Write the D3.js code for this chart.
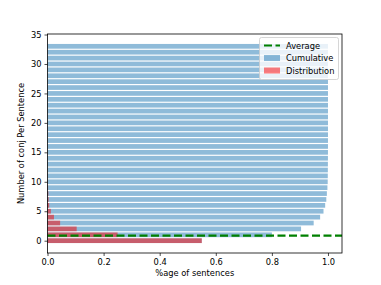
<!DOCTYPE html>
<html><head><meta charset="utf-8">
<script src="https://cdn.jsdelivr.net/npm/d3@7"></script>
<style>body{margin:0;background:#fff}svg{display:block}text{font-family:"DejaVu Sans",sans-serif}</style>
</head><body><svg id="c" width="381" height="285"></svg>
<script>
const conjCounts = d3.range(0, 34);
const distribution = [0.55,0.25,0.104,0.045,0.023,0.012,0.006,0.004,0.003,0.002,0.001,0.0005,0.0003,0.0002,0.0001,0.0001,0,0,0,0,0,0,0,0,0,0,0,0,0,0,0,0,0,0];
const cumulative = [0.55,0.80,0.904,0.949,0.972,0.984,0.990,0.994,0.996,0.998,0.999,0.9993,0.9995,0.9997,0.9998,0.9999,1,1,1,1,1,1,1,1,1,1,1,1,1,1,1,1,1,1];
const averageValue = 0.86;
const xTicks = [0.0,0.2,0.4,0.6,0.8,1.0];
const yTicks = [0,5,10,15,20,25,30,35];

const svg = d3.select("#c");
const L=47.5, R=342, T=34, B=253;
const x = d3.scaleLinear().domain([0,1.05]).range([L,R]);
const y = d3.scaleLinear().domain([-2.09,35.09]).range([B,T]);
const bh = y(0)-y(0.8);

svg.append("g").selectAll("rect").data(conjCounts).join("rect")
  .attr("x",x(0)).attr("y",d=>y(d+0.4)).attr("height",bh)
  .attr("width",d=>x(cumulative[d])-x(0))
  .attr("fill","#1f77b4").attr("fill-opacity",0.5);
svg.append("g").selectAll("rect").data(conjCounts).join("rect")
  .attr("x",x(0)).attr("y",d=>y(d+0.4)).attr("height",bh)
  .attr("width",d=>x(distribution[d])-x(0))
  .attr("fill","red").attr("fill-opacity",0.5);

svg.append("line").attr("x1",L).attr("x2",R).attr("y1",y(averageValue)).attr("y2",y(averageValue))
  .attr("stroke","green").attr("stroke-width",2.2).attr("stroke-dasharray","8,3.5");

// axes
const xa = svg.append("g").attr("transform",`translate(0,${B})`)
  .call(d3.axisBottom(x).tickValues(xTicks).tickFormat(d3.format(".1f")).tickSize(3).tickPadding(3));
const ya = svg.append("g").attr("transform",`translate(${L},0)`)
  .call(d3.axisLeft(y).tickValues(yTicks).tickFormat(d3.format("d")).tickSize(3).tickPadding(3));
[xa,ya].forEach(a=>{a.select(".domain").remove();a.selectAll("text").attr("font-size",8.3).attr("fill","#000");a.selectAll("line").attr("stroke","#000").attr("stroke-width",0.7);});

svg.append("rect").attr("x",L).attr("y",T).attr("width",R-L).attr("height",B-T)
  .attr("fill","none").attr("stroke","#000").attr("stroke-width",0.8);

svg.append("text").attr("x",(L+R)/2).attr("y",275.5).attr("text-anchor","middle").attr("font-size",8.3).text("%age of sentences");
svg.append("text").attr("transform",`translate(24,${(T+B)/2}) rotate(-90)`).attr("text-anchor","middle").attr("font-size",8.3).text("Number of conj Per Sentence");

// legend
const lg = svg.append("g");
lg.append("rect").attr("x",259.5).attr("y",37.5).attr("width",79).attr("height",42).attr("rx",2)
  .attr("fill","#fff").attr("fill-opacity",0.8).attr("stroke","#ccc").attr("stroke-width",0.8);
const items = [{label:"Average",type:"line"},{label:"Cumulative",type:"c"},{label:"Distribution",type:"d"}];
items.forEach((it,i)=>{
  const cy = 45.5 + i*12.5;
  if(it.type==="line"){
    lg.append("line").attr("x1",264).attr("x2",280).attr("y1",cy).attr("y2",cy)
      .attr("stroke","green").attr("stroke-width",2.2).attr("stroke-dasharray","8,3.5");
  } else {
    lg.append("rect").attr("x",264).attr("y",cy-3).attr("width",16).attr("height",6)
      .attr("fill",it.type==="c"?"#1f77b4":"red").attr("fill-opacity",0.5);
  }
  lg.append("text").attr("x",286).attr("y",cy+3).attr("font-size",8.3).text(it.label);
});
</script></body></html>
